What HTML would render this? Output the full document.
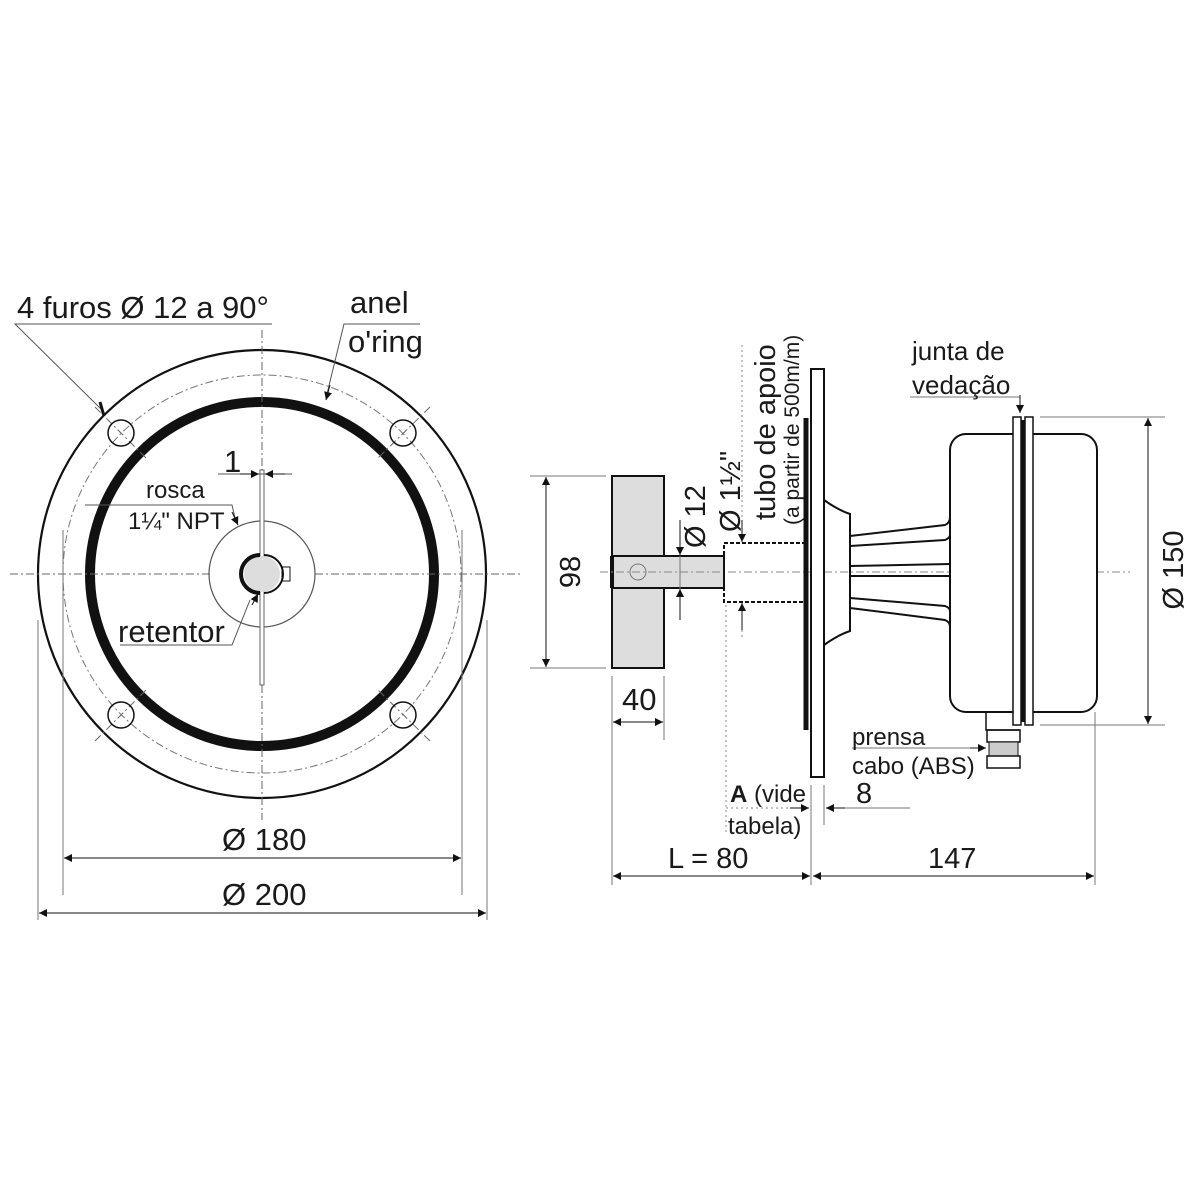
<!DOCTYPE html>
<html><head><meta charset="utf-8"><style>
html,body{margin:0;padding:0;background:#fff}
svg{display:block}
text{font-family:"Liberation Sans",Arial,sans-serif;fill:#1a1a1a}
</style></head><body>
<svg width="1200" height="1200" viewBox="0 0 1200 1200" xmlns="http://www.w3.org/2000/svg">
<defs>
<marker id="a" viewBox="0 0 10 10" refX="10" refY="5" markerWidth="14" markerHeight="8" markerUnits="userSpaceOnUse" orient="auto-start-reverse"><path d="M0,0L10,5L0,10z" fill="#111"/></marker>
</defs>
<g fill="none" stroke="#111">
<!-- LEFT VIEW -->
<circle cx="262" cy="574" r="224" stroke-width="2.2"/>
<circle cx="262" cy="574" r="199" stroke="#777" stroke-width="1" stroke-dasharray="8,3,2,3"/>
<circle cx="262" cy="574" r="172" stroke-width="10"/>
<g stroke="#666" stroke-width="1" stroke-dasharray="8,3,2,3">
<line x1="262" y1="330" x2="262" y2="470"/>
<line x1="262" y1="685" x2="262" y2="820"/>
<line x1="10" y1="574" x2="210" y2="574"/>
<line x1="315" y1="574" x2="520" y2="574"/>
<line x1="95" y1="407" x2="147" y2="459"/>
<line x1="430" y1="407" x2="377" y2="459"/>
<line x1="95" y1="741" x2="147" y2="689"/>
<line x1="430" y1="741" x2="377" y2="689"/>
</g>
<g stroke-width="1.5">
<circle cx="121" cy="433" r="13"/><circle cx="403" cy="433" r="13"/>
<circle cx="121" cy="715" r="13"/><circle cx="403" cy="715" r="13"/>
</g>
<circle cx="262" cy="574" r="53" stroke="#555" stroke-width="1.2"/>
<rect x="260" y="470" width="4" height="215" fill="#fff" stroke="#666" stroke-width="1"/>
<circle cx="262" cy="574" r="18" fill="#ddd" stroke="none"/>
<path d="M260,555 A19,19 0 0 0 260,593" stroke-width="4"/>
<path d="M264,555 A19,19 0 0 1 264,593" stroke-width="2"/>
<rect x="282" y="567" width="8" height="14" stroke-width="1"/>
<!-- leaders left -->
<g stroke="#555" stroke-width="1">
<polyline points="272,324 15,324 102,410"/>
<polyline points="420,324 344,324 326,398"/>
<polyline points="85,505 232,505 236,522"/>
<polyline points="120,645 232,645 250,600"/>
<line x1="218" y1="474" x2="292" y2="474"/>
</g>
<line x1="240" y1="474" x2="259" y2="474" stroke-width="1" marker-end="url(#a)"/>
<line x1="285" y1="474" x2="265" y2="474" stroke-width="1" marker-end="url(#a)"/>
<line x1="100" y1="402" x2="104" y2="416" stroke-width="3"/>
<line x1="330" y1="385" x2="326" y2="400" stroke-width="1" marker-end="url(#a)"/>
<line x1="232" y1="512" x2="238" y2="525" stroke-width="1" marker-end="url(#a)"/>
<line x1="252" y1="605" x2="258" y2="594" stroke-width="1" marker-end="url(#a)"/>
<!-- left dims -->
<g stroke="#777" stroke-width="1">
<line x1="38" y1="620" x2="38" y2="920"/>
<line x1="487" y1="620" x2="487" y2="920"/>
<line x1="63" y1="530" x2="63" y2="895"/>
<line x1="462" y1="530" x2="462" y2="895"/>
</g>
<line x1="64" y1="858" x2="461" y2="858" stroke-width="1" marker-start="url(#a)" marker-end="url(#a)"/>
<line x1="39" y1="913" x2="486" y2="913" stroke-width="1" marker-start="url(#a)" marker-end="url(#a)"/>

<!-- RIGHT VIEW -->
<rect x="612" y="476" width="52" height="192" fill="#ddd" stroke-width="2"/>
<rect x="612" y="556" width="112" height="32" fill="#ddd" stroke-width="2"/>
<circle cx="638" cy="572" r="8" stroke="#777" stroke-width="1"/>
<line x1="612" y1="556" x2="612" y2="588" stroke-width="4"/>
<line x1="600" y1="572" x2="1130" y2="572" stroke="#888" stroke-width="1" stroke-dasharray="8,3,2,3"/>
<rect x="724" y="543" width="82" height="59" stroke-width="2" stroke-dasharray="4,2"/>
<line x1="806" y1="418" x2="806" y2="730" stroke-width="5"/>
<rect x="811" y="369" width="13" height="408" fill="#fff" stroke-width="2"/>
<path d="M824,500 Q838,510 850,514 L850,631 Q838,635 824,645" stroke-width="2"/>
<g stroke-width="2">
<path d="M850,536 L945,525 Q950,523 950,517"/>
<path d="M850,546 L945,540 Q950,538 950,535"/>
<path d="M850,566 L950,564"/>
<path d="M850,576 L950,576"/>
<path d="M850,598 L945,606 Q950,608 950,611"/>
<path d="M850,608 L945,620 Q950,622 950,627"/>
</g>
<rect x="950" y="434" width="147" height="278" rx="16" fill="#fff" stroke-width="2"/>
<rect x="1013" y="417" width="8" height="308" fill="#fff" stroke-width="1.5"/>
<rect x="1025" y="417" width="8" height="308" fill="#fff" stroke-width="1.5"/>
<line x1="1023" y1="420" x2="1023" y2="722" stroke-width="3"/>
<path d="M986,712 L986,730 L1020,730" stroke-width="1.5"/>
<rect x="987" y="730" width="33" height="12" stroke-width="1.5"/>
<rect x="989" y="742" width="29" height="14" fill="#ccc" stroke-width="1"/>
<rect x="987" y="756" width="33" height="12" stroke-width="1.5"/>
<!-- right dims -->
<g stroke="#777" stroke-width="1">
<line x1="530" y1="476" x2="606" y2="476"/>
<line x1="530" y1="668" x2="606" y2="668"/>
<line x1="1040" y1="417" x2="1165" y2="417"/>
<line x1="1040" y1="725" x2="1165" y2="725"/>
<line x1="612" y1="676" x2="612" y2="885"/>
<line x1="664" y1="676" x2="664" y2="740"/>
<line x1="811" y1="785" x2="811" y2="885"/>
<line x1="824" y1="785" x2="824" y2="825"/>
<line x1="1095" y1="712" x2="1095" y2="885"/>
<line x1="680" y1="556" x2="680" y2="620"/>
<polyline points="852,748 985,748"/>
<polyline points="910,397 1020,397 1020,405"/>
<line x1="826" y1="808" x2="910" y2="808"/>
</g>
<g stroke="#888" stroke-width="1" stroke-dasharray="2,3">
<line x1="742" y1="345" x2="742" y2="540"/>
<line x1="742" y1="605" x2="742" y2="640"/>
<line x1="726" y1="605" x2="726" y2="835"/>
<line x1="726" y1="808" x2="790" y2="808"/>
</g>
<line x1="546" y1="477" x2="546" y2="667" stroke-width="1" marker-start="url(#a)" marker-end="url(#a)"/>
<line x1="1148" y1="418" x2="1148" y2="724" stroke-width="1" marker-start="url(#a)" marker-end="url(#a)"/>
<line x1="613" y1="722" x2="663" y2="722" stroke-width="1" marker-start="url(#a)" marker-end="url(#a)"/>
<line x1="613" y1="876" x2="810" y2="876" stroke-width="1" marker-start="url(#a)" marker-end="url(#a)"/>
<line x1="813" y1="876" x2="1094" y2="876" stroke-width="1" marker-start="url(#a)" marker-end="url(#a)"/>
<line x1="680" y1="520" x2="680" y2="555" stroke-width="1" marker-end="url(#a)"/>
<line x1="680" y1="620" x2="680" y2="589" stroke-width="1" marker-end="url(#a)"/>
<line x1="742" y1="520" x2="742" y2="542" stroke-width="1" marker-end="url(#a)"/>
<line x1="742" y1="630" x2="742" y2="603" stroke-width="1" marker-end="url(#a)"/>
<line x1="790" y1="808" x2="809" y2="808" stroke-width="1" marker-end="url(#a)"/>
<line x1="845" y1="808" x2="826" y2="808" stroke-width="1" marker-end="url(#a)"/>
<line x1="970" y1="748" x2="986" y2="748" stroke-width="1" marker-end="url(#a)"/>
<line x1="1020" y1="395" x2="1020" y2="413" stroke-width="1" marker-end="url(#a)"/>
</g>
<!-- TEXT -->
<g font-size="31">
<text x="17" y="318">4 furos Ø 12 a 90°</text>
<text x="350" y="313">anel</text>
<text x="348" y="352">o'ring</text>
<text x="224" y="472">1</text>
<text x="118" y="642">retentor</text>
<text x="222" y="850">Ø 180</text>
<text x="222" y="905">Ø 200</text>
<text x="622" y="710">40</text>
<text x="668" y="868" font-size="29">L = 80</text>
<text x="928" y="868" font-size="29">147</text>
<text x="856" y="803" font-size="29">8</text>
<text transform="translate(580,572) rotate(-90)" text-anchor="middle" font-size="29">98</text>
<text transform="translate(1183,570) rotate(-90)" text-anchor="middle" font-size="29">Ø 150</text>
<text transform="translate(705,548) rotate(-90)" font-size="29">Ø 12</text>
<text transform="translate(740,532) rotate(-90)" font-size="29">Ø 1½"</text>
<text transform="translate(775,520) rotate(-90)" font-size="29">tubo de apoio</text>
</g>
<g font-size="24">
<text x="146" y="498">rosca</text>
<text x="128" y="529">1¼" NPT</text>
<text x="912" y="360" font-size="26">junta de</text>
<text x="912" y="394" font-size="26">vedação</text>
<text x="852" y="745">prensa</text>
<text x="852" y="774">cabo (ABS)</text>
<text x="730" y="802"><tspan font-weight="bold">A</tspan> (vide</text>
<text x="728" y="834">tabela)</text>
<text transform="translate(799,525) rotate(-90)" font-size="21">(a partir de 500m/m)</text>
</g>
</svg>
</body></html>
